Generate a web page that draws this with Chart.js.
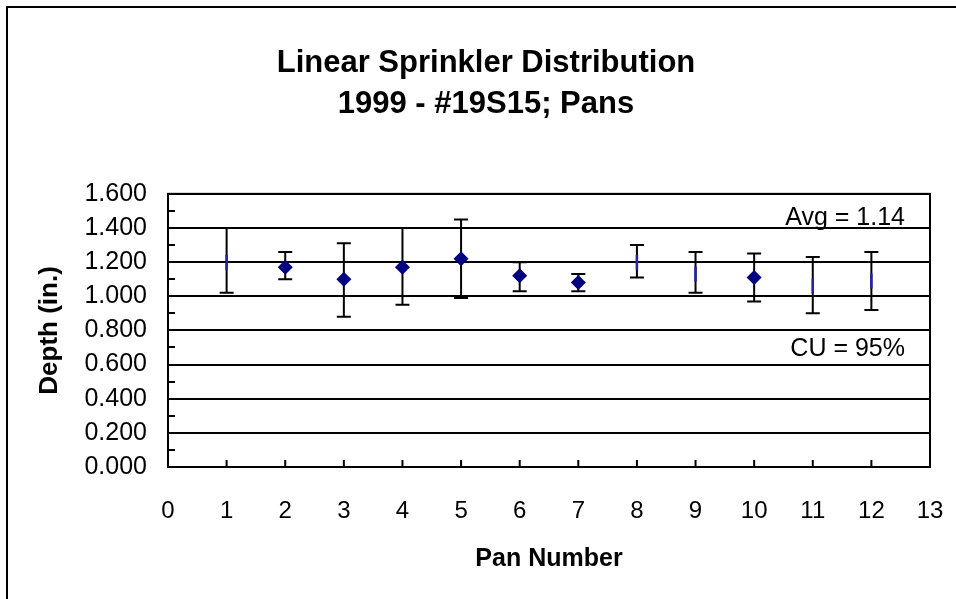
<!DOCTYPE html>
<html>
<head>
<meta charset="utf-8">
<script src="https://cdn.jsdelivr.net/npm/chart.js@4/dist/chart.umd.min.js"></script>
<style>
  body { margin: 0; background: #fff; }
  #chartBox { width: 956px; height: 599px; }
</style>
</head>
<body>
<div id="chartBox"><canvas id="sprinklerChart" width="956" height="599"></canvas></div>
<script>
// pan number / mean depth / low and high of each error bar (in.)
const pans = [1, 2, 3, 4, 5, 6, 7, 8, 9, 10, 11, 12];
const depth = [1.20, 1.17, 1.10, 1.17, 1.22, 1.12, 1.08, 1.20, 1.13, 1.11, 1.06, 1.09];
const depthLow = [1.02, 1.10, 0.88, 0.95, 0.99, 1.03, 1.03, 1.11, 1.02, 0.97, 0.90, 0.92];
const depthHigh = [1.40, 1.26, 1.31, 1.40, 1.45, 1.20, 1.13, 1.30, 1.26, 1.25, 1.23, 1.26];
const titleLines = ["Linear Sprinkler Distribution", "1999 - #19S15; Pans"];
const notes = [
  { text: "Avg = 1.14", at: 1.46 },
  { text: "CU = 95%", at: 0.69 },
];

const FONT = "'Liberation Sans', Arial, sans-serif";
// some markers come out as a thin blue stroke instead of a diamond
const thinPans = [1, 8, 9, 11, 12];
const isThin = (p) => thinPans.includes(p);

const points = pans.map((p, i) => ({ x: p, y: depth[i] }));

const frame = {
  id: "frame",
  beforeDraw(chart) {
    const ctx = chart.ctx;
    ctx.save();
    ctx.strokeStyle = "#000";
    ctx.lineWidth = 2;
    ctx.beginPath();
    ctx.moveTo(7, 599);
    ctx.lineTo(7, 7);
    ctx.lineTo(956, 7);
    ctx.stroke();
    ctx.restore();
  },
  beforeDatasetsDraw(chart) {
    const { ctx, chartArea: a, scales } = chart;
    const xs = scales.x, ys = scales.y;
    ctx.save();
    ctx.strokeStyle = "#000";
    ctx.lineWidth = 2;
    // plot box
    ctx.strokeRect(a.left, a.top, a.right - a.left, a.bottom - a.top);
    // inward tick marks
    ctx.beginPath();
    for (const t of xs.ticks) {
      const px = xs.getPixelForValue(t.value);
      ctx.moveTo(px, a.bottom);
      ctx.lineTo(px, a.bottom - 7);
    }
    for (let v = 0.1; v < 1.6; v += 0.2) {
      const py = Math.round(ys.getPixelForValue(v));
      ctx.moveTo(a.left, py);
      ctx.lineTo(a.left + 7, py);
    }
    ctx.stroke();
    // error bars
    ctx.beginPath();
    pans.forEach((p, i) => {
      const px = xs.getPixelForValue(p);
      const lo = ys.getPixelForValue(depthLow[i]);
      const hi = ys.getPixelForValue(depthHigh[i]);
      ctx.moveTo(px, lo);
      ctx.lineTo(px, hi);
      ctx.moveTo(px - 7, lo);
      ctx.lineTo(px + 7, lo);
      ctx.moveTo(px - 7, hi);
      ctx.lineTo(px + 7, hi);
    });
    ctx.stroke();
    // notes
    ctx.fillStyle = "#000";
    ctx.font = "25px " + FONT;
    ctx.textAlign = "right";
    ctx.textBaseline = "middle";
    for (const n of notes) {
      ctx.fillText(n.text, a.right - 25, ys.getPixelForValue(n.at));
    }
    ctx.restore();
  },
};

new Chart(document.getElementById("sprinklerChart"), {
  type: "scatter",
  data: {
    datasets: [
      {
        data: points,
        pointStyle: pans.map((p) => (isThin(p) ? "line" : "rectRot")),
        pointRotation: pans.map((p) => (isThin(p) ? 90 : 0)),
        pointRadius: 7.5,
        pointHoverRadius: 7.5,
        pointBackgroundColor: "#000080",
        pointBorderColor: pans.map((p) => (isThin(p) ? "#2222aa" : "#000080")),
        pointBorderWidth: pans.map((p) => (isThin(p) ? 2.5 : 0)),
        pointHoverBorderWidth: pans.map((p) => (isThin(p) ? 2.5 : 0)),
      },
    ],
  },
  options: {
    responsive: false,
    animation: false,
    layout: { padding: { left: 25, right: 9, top: 0, bottom: 0 } },
    plugins: {
      legend: { display: false },
      tooltip: { enabled: false },
      title: {
        display: true,
        text: titleLines,
        color: "#000",
        font: { family: FONT, size: 31, weight: "bold", lineHeight: 1.32 },
        padding: { top: 43, bottom: 69 },
      },
    },
    scales: {
      x: {
        type: "linear",
        min: 0,
        max: 13,
        ticks: {
          stepSize: 1,
          color: "#000",
          padding: 30,
          font: { family: FONT, size: 24 },
        },
        grid: { display: false, drawTicks: false },
        border: { display: false },
        title: {
          display: true,
          text: "Pan Number",
          color: "#000",
          font: { family: FONT, size: 25, weight: "bold", lineHeight: 1.2 },
          padding: { top: 0, bottom: 25 },
        },
        afterFit(scale) {
          scale.height = 132;
          scale.paddingLeft = 0;
          scale.paddingRight = 26;
        },
      },
      y: {
        min: 0,
        max: 1.6,
        ticks: {
          stepSize: 0.2,
          color: "#000",
          padding: 21,
          font: { family: FONT, size: 25 },
          callback: (v) => Number(v).toFixed(3),
        },
        grid: { color: "#000", lineWidth: 2, drawTicks: false },
        border: { display: false },
        title: {
          display: true,
          text: "Depth (in.)",
          color: "#000",
          font: { family: FONT, size: 26, weight: "bold", lineHeight: 1.2 },
          padding: { top: 9, bottom: 0 },
        },
        afterFit(scale) { scale.width = 143; },
      },
    },
  },
  plugins: [frame],
});
</script>
</body>
</html>
